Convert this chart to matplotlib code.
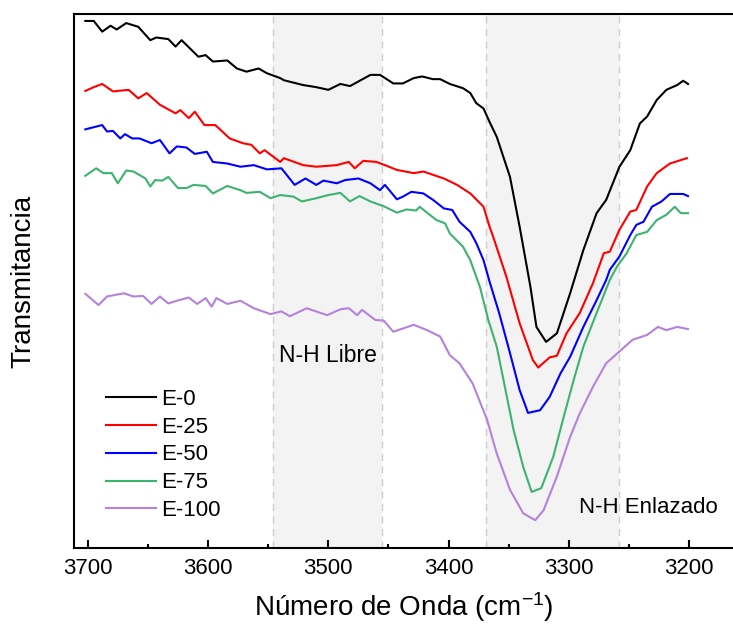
import matplotlib
matplotlib.use('Agg')
import matplotlib.pyplot as plt

plt.rcParams['font.family'] = ['Liberation Sans', 'DejaVu Sans']
plt.rcParams['mathtext.fontset'] = 'custom'
plt.rcParams['mathtext.rm'] = 'Liberation Sans'
plt.rcParams['mathtext.it'] = 'Liberation Sans'

# wavenumbers (cm-1) and transmittance (a.u.)
wn_e0 = [3702, 3695, 3688, 3681, 3676, 3668, 3658, 3648, 3643, 3633, 3627, 3622, 3608, 3602, 3596,
         3584, 3576, 3568, 3558, 3551, 3540, 3537, 3521, 3510, 3500, 3490, 3482, 3465, 3457, 3446,
         3438, 3429, 3422, 3413, 3407, 3399, 3388, 3382, 3377, 3371, 3366, 3360, 3349, 3341, 3332,
         3327, 3319, 3310, 3299, 3288, 3277, 3269, 3258, 3249, 3241, 3235, 3227, 3219, 3210, 3205, 3201]
t_e0 = [98.7, 98.7, 96.7, 97.8, 97.1, 98.3, 97.6, 95.1, 95.6, 95.3, 93.9, 95.1, 92.0, 92.3, 91.1,
        91.3, 89.8, 89.2, 89.8, 88.9, 88.0, 87.6, 86.7, 86.3, 85.8, 86.9, 86.5, 88.6, 88.6, 87.0,
        87.0, 88.0, 88.3, 87.8, 87.8, 86.9, 86.1, 85.2, 83.3, 82.3, 79.8, 77.0, 69.5, 60.2, 48.9,
        41.4, 38.6, 40.2, 47.7, 55.8, 62.7, 65.2, 71.4, 74.5, 79.5, 80.8, 83.9, 85.8, 86.7, 87.5, 86.9]

wn_e25 = [3702, 3695, 3688, 3679, 3666, 3658, 3651, 3640, 3627, 3623, 3616, 3611, 3603, 3594, 3582,
          3571, 3564, 3557, 3553, 3540, 3537, 3521, 3510, 3493, 3483, 3478, 3471, 3460, 3453, 3443,
          3429, 3421, 3404, 3393, 3382, 3374, 3371, 3366, 3363, 3352, 3341, 3330, 3325.5, 3316, 3310,
          3302, 3291, 3280, 3271, 3266, 3258, 3249, 3244, 3235, 3227, 3216, 3202]
t_e25 = [85.6, 86.3, 86.9, 85.5, 85.8, 84.2, 85.2, 83.0, 81.4, 82.0, 80.5, 81.7, 79.2, 79.2, 76.7,
         75.8, 75.5, 73.9, 74.5, 72.3, 73.0, 71.7, 71.4, 71.7, 72.3, 71.1, 72.5, 72.3, 71.7, 70.8,
         70.2, 70.5, 69.2, 68.0, 66.4, 64.6, 63.9, 60.2, 58.3, 50.8, 42.1, 35.2, 33.8, 35.7, 36.0,
         40.2, 44.0, 49.6, 55.2, 55.5, 59.6, 63.0, 63.3, 67.7, 70.2, 72.0, 73.0]

wn_e50 = [3702, 3695, 3688, 3684, 3679, 3673, 3669, 3663, 3657, 3647, 3640, 3632, 3626, 3618, 3611,
          3601, 3596, 3584, 3573, 3562, 3551, 3539, 3528, 3519, 3510, 3504, 3493, 3486, 3475, 3465,
          3457, 3453, 3443, 3438, 3431, 3421, 3413, 3404, 3397, 3391, 3382, 3377, 3371, 3366, 3358,
          3349, 3341, 3334, 3324, 3316, 3307, 3299, 3288, 3277, 3269, 3266, 3258, 3249, 3244, 3238,
          3231, 3223, 3216, 3205, 3201]
t_e50 = [78.4, 78.8, 79.2, 78.0, 78.1, 76.7, 77.5, 76.7, 76.7, 75.8, 76.4, 73.9, 75.2, 75.0, 73.8,
         74.2, 72.3, 72.0, 71.4, 71.7, 70.9, 71.1, 68.0, 69.2, 68.0, 68.8, 68.3, 68.9, 69.2, 68.3,
         67.0, 68.0, 65.3, 65.8, 66.7, 66.4, 65.2, 63.6, 63.3, 61.1, 59.2, 57.1, 53.9, 49.9, 44.0,
         36.5, 29.6, 25.3, 25.8, 28.3, 32.7, 35.8, 41.4, 46.4, 50.2, 52.1, 54.6, 58.6, 60.5, 61.1,
         63.9, 64.9, 66.3, 66.3, 65.9]

wn_e75 = [3702, 3693, 3687, 3680, 3675, 3668, 3662, 3652, 3648, 3644, 3638, 3633, 3625, 3618, 3612,
          3602, 3596, 3584, 3573, 3568, 3557, 3548, 3540, 3529, 3522, 3510, 3500, 3490, 3482, 3474,
          3465, 3454, 3443, 3435, 3427, 3424, 3418, 3410, 3403, 3399, 3388, 3382, 3374, 3367, 3360,
          3346, 3338, 3331, 3323, 3313, 3305, 3296, 3288, 3277, 3266, 3260, 3252, 3244, 3235, 3227,
          3219, 3212, 3207, 3201]
t_e75 = [69.7, 71.1, 70.2, 70.2, 68.3, 70.7, 70.5, 69.2, 67.7, 68.9, 68.8, 69.5, 67.4, 67.4, 68.0,
         67.8, 66.4, 67.8, 67.0, 66.5, 66.7, 65.5, 66.1, 65.8, 64.9, 65.5, 66.1, 66.5, 64.9, 65.9,
         64.9, 64.0, 62.8, 63.4, 63.2, 63.9, 62.8, 61.4, 60.8, 58.9, 56.4, 53.9, 48.9, 42.7, 37.7,
         22.1, 15.2, 10.5, 11.2, 17.1, 24.0, 31.5, 37.7, 44.0, 50.2, 52.7, 55.2, 58.6, 59.2, 61.4,
         62.4, 63.9, 62.7, 62.7]

wn_e100 = [3702, 3691, 3684, 3670, 3662, 3654, 3647, 3640, 3633, 3626, 3616, 3609, 3602, 3597, 3593,
           3584, 3573, 3562, 3548, 3539, 3532, 3518, 3501, 3490, 3483, 3476, 3472, 3461, 3454, 3446,
           3438, 3429, 3418, 3407, 3399, 3391, 3380, 3368, 3360, 3349, 3338, 3328, 3321, 3310, 3299,
           3291, 3280, 3269, 3258, 3247, 3235, 3226, 3219, 3210, 3201]
t_e100 = [47.6, 45.5, 47.1, 47.7, 47.1, 47.2, 45.7, 47.1, 45.8, 46.3, 46.9, 45.7, 46.8, 45.2, 46.8,
          45.7, 46.3, 44.9, 43.8, 44.3, 43.4, 44.9, 43.6, 44.7, 44.9, 43.6, 44.6, 42.7, 42.6, 40.5,
          41.1, 41.8, 40.8, 39.6, 36.1, 34.6, 30.8, 24.0, 17.7, 10.9, 6.5, 5.2, 7.1, 13.4, 20.8,
          25.2, 30.2, 34.6, 36.8, 39.0, 39.9, 41.4, 40.8, 41.4, 41.0]

series = [
    ('E-0', wn_e0, t_e0, 'black'),
    ('E-25', wn_e25, t_e25, '#ff0000'),
    ('E-50', wn_e50, t_e50, '#0000ff'),
    ('E-75', wn_e75, t_e75, '#3cb371'),
    ('E-100', wn_e100, t_e100, '#b482dc'),
]

# shaded bands (cm-1)
band_libre = (3546, 3455)
band_enlazado = (3369, 3258)

fig = plt.figure(figsize=(7.33, 6.28), dpi=100)
ax = fig.add_axes([0.101, 0.1274, 0.899, 0.8503])

for lo, hi in [band_libre, band_enlazado]:
    ax.axvspan(hi, lo, color='#f3f3f3', zorder=0, lw=0)
    ax.axvline(lo, color='#cccccc', ls=(0, (5, 4)), lw=1, zorder=0.5)
    ax.axvline(hi, color='#cccccc', ls=(0, (5, 4)), lw=1, zorder=0.5)

for name, x, y, c in series:
    ax.plot(x, y, color=c, lw=1.5, label=name)

ax.set_xlim(3711.4, 3163.6)
ax.set_ylim(0, 100)
ax.set_xticks([3700, 3600, 3500, 3400, 3300, 3200])
ax.set_xticks([3650, 3550, 3450, 3350, 3250], minor=True)
ax.tick_params(axis='x', which='major', direction='in', length=6, width=1.5, labelsize=16, pad=7)
ax.tick_params(axis='x', which='minor', direction='in', length=3, width=1.5)
ax.tick_params(axis='y', left=False, labelleft=False)
for s in ['left', 'top', 'bottom']:
    ax.spines[s].set_linewidth(1.5)
ax.spines['right'].set_visible(False)

ax.set_xlabel('Número de Onda (cm$^{\\mathrm{-1}}$)', fontsize=20, labelpad=8)
ax.set_ylabel('Transmitancia', fontsize=20, labelpad=27)

ax.text(3500, 36, 'N-H Libre', fontsize=16.5, ha='center', va='center')
ax.text(3234, 7.6, 'N-H Enlazado', fontsize=16, ha='center', va='center')

ax.legend(loc='upper left', bbox_to_anchor=(0.035, 0.315), frameon=False, fontsize=16,
          handlelength=2.25, handletextpad=0.25, labelspacing=0.31, borderaxespad=0)

fig.savefig('out.png', dpi=100)
